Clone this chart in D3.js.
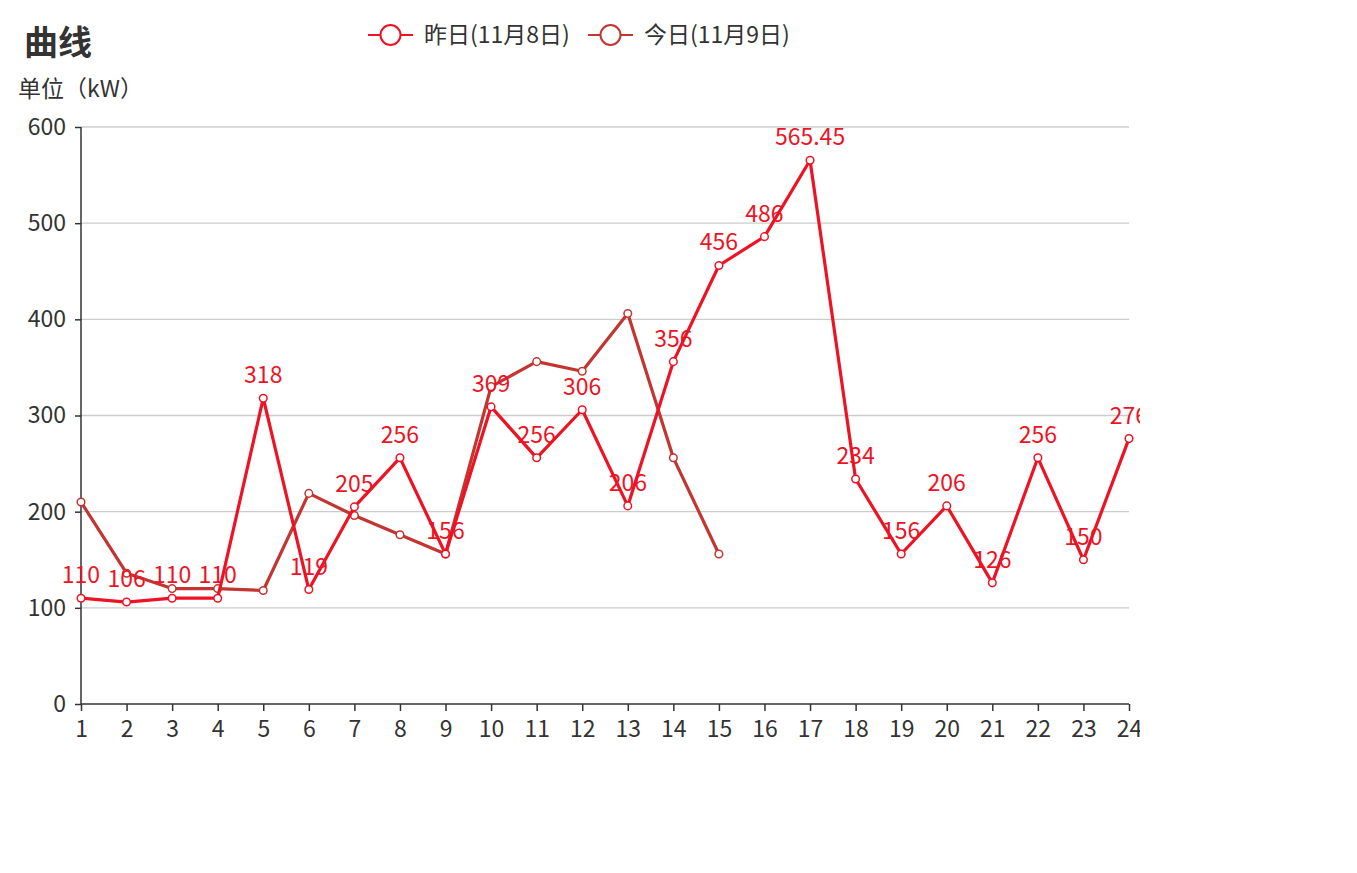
<!DOCTYPE html>
<html><head><meta charset="utf-8">
<script src="https://cdn.jsdelivr.net/npm/d3@7/dist/d3.min.js"></script>
<style>body{margin:0;background:#fff;}svg{display:block;font-family:"Noto Sans CJK SC","Noto Sans",sans-serif;}</style>
</head><body>
<svg id="c" width="1140" height="873"></svg>
<script>
const hours = d3.range(1, 25).map(String);
const yesterday = [110,106,110,110,318,119,205,256,156,309,256,306,206,356,456,486,565.45,234,156,206,126,256,150,276];
const today = [210,136,120,120,118,219,196,176,156,330,356,346,406,256,156];
const yTicks = [0,100,200,300,400,500,600];
const seriesNames = ["昨日(11月8日)", "今日(11月9日)"];
const colors = ["#ee1324", "#c23531"];

const svg = d3.select("#c");
const x = d3.scalePoint().domain(hours).range([81, 1129]);
const y = d3.scaleLinear().domain([0, 600]).range([704, 127]);

// grid
svg.append("g").selectAll("line").data(yTicks.slice(1)).join("line")
  .attr("x1", 81).attr("x2", 1129).attr("y1", d => y(d)).attr("y2", d => y(d))
  .attr("stroke", "#ccc").attr("stroke-width", 1.3);

// y axis
const ya = svg.append("g").attr("transform", "translate(81,0)")
  .call(d3.axisLeft(y).tickValues(yTicks).tickSize(6).tickPadding(9));
ya.selectAll("text").attr("font-size", 23).attr("fill", "#333").attr("font-family", "Noto Sans CJK SC");
ya.selectAll("line,path").attr("stroke", "#333").attr("stroke-width", 1.5);
ya.select(".domain").attr("d", "M0,704V127");

// x axis
const xa = svg.append("g").attr("transform", "translate(0,704)")
  .call(d3.axisBottom(x).tickSize(7).tickPadding(10));
xa.selectAll("text").attr("font-size", 23).attr("fill", "#333").attr("font-family", "Noto Sans CJK SC");
xa.selectAll("line,path").attr("stroke", "#333").attr("stroke-width", 1.5);
xa.select(".domain").attr("d", "M81,0H1129");

const line = d3.line().x((d, i) => x(hours[i])).y(d => y(d));

function drawSeries(data, color) {
  svg.append("path").datum(data).attr("d", line).attr("fill", "none")
    .attr("stroke", color).attr("stroke-width", 3.2).attr("stroke-linejoin", "round");
}
function drawMarkers(data, color) {
  svg.append("g").selectAll("circle").data(data).join("circle")
    .attr("cx", (d, i) => x(hours[i])).attr("cy", d => y(d)).attr("r", 3.8)
    .attr("fill", "#fff").attr("stroke", color).attr("stroke-width", 1.5);
}
drawSeries(today, colors[1]);
drawMarkers(today, colors[1]);
drawSeries(yesterday, colors[0]);
drawMarkers(yesterday, colors[0]);

svg.append("g").selectAll("text").data(yesterday).join("text")
  .attr("x", (d, i) => x(hours[i])).attr("y", d => y(d) - 15)
  .attr("text-anchor", "middle").attr("font-size", 23).attr("fill", colors[0])
  .text(d => d);

// title
svg.append("text").attr("x", 24).attr("y", 55).attr("font-size", 34).attr("font-weight", "bold")
  .attr("fill", "#333").text("曲线");
svg.append("text").attr("x", 18).attr("y", 97).attr("font-size", 23).attr("fill", "#333").text("单位（kW）");

// legend
const legX = [368, 588];
seriesNames.forEach((n, i) => {
  const g = svg.append("g").attr("transform", `translate(${legX[i]},35)`);
  g.append("line").attr("x1", 0).attr("x2", 45).attr("y1", 0).attr("y2", 0).attr("stroke", colors[i]).attr("stroke-width", 2);
  g.append("circle").attr("cx", 22.5).attr("cy", 0).attr("r", 10).attr("fill", "#fff").attr("stroke", colors[i]).attr("stroke-width", 2);
  g.append("text").attr("x", 56).attr("y", 8).attr("font-size", 23).attr("fill", "#333").text(n);
});
</script>
</body></html>
